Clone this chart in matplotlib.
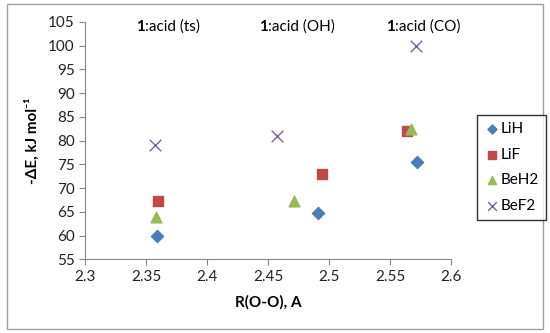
import matplotlib
matplotlib.use("Agg")
import matplotlib.pyplot as plt
from matplotlib.patches import Rectangle

plt.rcParams['font.family'] = ['Lato', 'DejaVu Sans']

series = ["LiH", "LiF", "BeH2", "BeF2"]
x_vals = {
    "LiH": [2.359, 2.491, 2.572],
    "LiF": [2.360, 2.494, 2.564],
    "BeH2": [2.358, 2.471, 2.567],
    "BeF2": [2.357, 2.457, 2.571],
}
y_vals = {
    "LiH": [59.9, 64.7, 75.6],
    "LiF": [67.2, 73.0, 82.0],
    "BeH2": [64.0, 67.3, 82.5],
    "BeF2": [79.0, 81.0, 100.0],
}
group_labels = ["(ts)", "(OH)", "(CO)"]
group_x = [2.362, 2.463, 2.567]

styles = {
    "LiH": dict(marker="D", color="#4a7ebb", s=38),
    "LiF": dict(marker="s", color="#be4b48", s=55),
    "BeH2": dict(marker="^", color="#98b954", s=60),
    "BeF2": dict(marker="x", color="#7d60a0", s=70, linewidths=1.0),
}

fig = plt.figure(figsize=(5.5, 3.33), dpi=100)
ax = fig.add_axes([0.1545, 0.2214, 0.6655, 0.7126])
fig.patches.append(Rectangle((0.012, 0.012), 0.976, 0.976, transform=fig.transFigure,
                             fill=False, edgecolor="#a0a0a0", lw=1.0))

for name in series:
    ax.scatter(x_vals[name], y_vals[name], label=name, zorder=3, **styles[name])

ax.set_xlim(2.3, 2.6)
ax.set_ylim(55, 105)
ax.set_xticks([2.3, 2.35, 2.4, 2.45, 2.5, 2.55, 2.6])
ax.set_xticklabels(["2.3", "2.35", "2.4", "2.45", "2.5", "2.55", "2.6"])
ax.set_yticks(range(55, 106, 5))
for side in ["top", "right"]:
    ax.spines[side].set_visible(False)
for side in ["left", "bottom"]:
    ax.spines[side].set_color("#868686")
ax.tick_params(direction="out", length=4, color="#868686", labelsize=11, labelcolor="#222222")

ax.set_xlabel("R(O-O), A", fontweight="bold", fontsize=11, labelpad=8)
ax.set_ylabel("-ΔE, kJ mol⁻¹", fontweight="bold", fontsize=11, labelpad=6)

for gx, gl in zip(group_x, group_labels):
    ax.text(gx - 0.013, 104, "1", fontweight="bold", ha="right", va="center", fontsize=11)
    ax.text(gx - 0.013, 104, ":acid " + gl, ha="left", va="center", fontsize=11)

leg = fig.legend(loc="center left", bbox_to_anchor=(0.867, 0.497), frameon=True, fancybox=False,
                 edgecolor="black", fontsize=11, handletextpad=0.05, labelspacing=0.75,
                 borderpad=0.5, handlelength=1.0, markerscale=0.75, borderaxespad=0)
leg.get_frame().set_linewidth(1.0)

fig.savefig("out.png", dpi=100)
